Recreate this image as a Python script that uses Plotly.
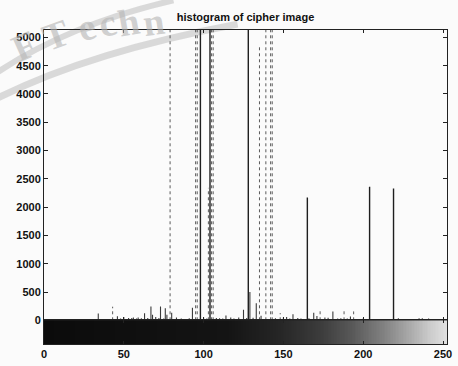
import plotly.graph_objects as go
from plotly.subplots import make_subplots

# Gray levels and pixel counts of the cipher image histogram
tall_levels = [98, 104, 128, 165, 204, 219]
tall_counts = [6500, 6100, 5900, 2170, 2360, 2330]

faint_levels = [79, 95, 96, 103, 105, 106, 135, 139, 142, 143,
                43, 148, 173, 188, 194, 222, 235, 237, 241]
faint_counts = [5600, 5800, 5400, 2340, 6300, 5500, 4840, 5700, 5300, 6000,
                240, 127, 186, 186, 157, 40, 40, 40, 35]

small_levels = [27, 30, 34, 38, 40, 46, 48, 50, 52, 53, 55, 56, 58, 59, 61, 63,
                65, 67, 68, 70, 72, 73, 75, 76, 77, 80, 83, 86, 89, 91, 93, 100,
                102, 108, 110, 112, 114, 117, 119, 121, 122, 125, 127, 129, 131,
                133, 136, 145, 150, 152, 154, 156, 159, 161, 166, 169, 171, 176,
                178, 181, 184, 186, 190, 192, 197, 200, 207, 210, 226, 230, 250]
small_counts = [15, 20, 120, 25, 20, 70, 30, 60, 25, 40, 40, 50, 30, 50, 35, 125,
                40, 245, 100, 60, 40, 245, 30, 215, 100, 135, 50, 30, 25, 35, 220, 50,
                30, 40, 35, 30, 85, 50, 30, 25, 50, 186, 40, 500, 45,
                300, 80, 35, 50, 60, 30, 105, 40, 30, 35, 135, 75, 50,
                45, 157, 30, 35, 30, 65, 25, 30, 25, 20, 20, 15, 20]

y_ticks = [0, 500, 1000, 1500, 2000, 2500, 3000, 3500, 4000, 4500, 5000]
x_ticks = [0, 50, 100, 150, 200, 250]
gray_levels = list(range(256))

stamp_letters = ["F", "T", "e", "c", "h", "n"]


def stems(levels, counts):
    xs, ys = [], []
    for g, c in zip(levels, counts):
        xs += [g, g, None]
        ys += [0, c, None]
    return xs, ys


fig = make_subplots(rows=2, cols=1, shared_xaxes=True, vertical_spacing=0,
                    row_heights=[0.9245, 0.0755])

# scanned-print look of the gray bar beneath the histogram
bar_scale = [
    [0.0, "#0b0b0b"], [0.45, "#141414"], [0.58, "#262626"], [0.68, "#3c3c3c"],
    [0.76, "#5a5a5a"], [0.84, "#858585"], [0.9, "#ababab"], [0.95, "#cdcdcd"],
    [1.0, "#e6e6e6"],
]
fig.add_trace(go.Heatmap(z=[gray_levels], x=gray_levels, y=[0.5],
                         colorscale=bar_scale, showscale=False,
                         hoverinfo="skip"), row=2, col=1)

sx, sy = stems(small_levels, small_counts)
fig.add_trace(go.Scatter(x=sx, y=sy, mode="lines",
                         line=dict(color="#3a3a3a", width=1.1),
                         hoverinfo="skip", showlegend=False), row=1, col=1)
fx, fy = stems(faint_levels, faint_counts)
fig.add_trace(go.Scatter(x=fx, y=fy, mode="lines",
                         line=dict(color="#5a5a5a", width=1, dash="dot"),
                         hoverinfo="skip", showlegend=False), row=1, col=1)
tx, ty = stems(tall_levels, tall_counts)
fig.add_trace(go.Scatter(x=tx, y=ty, mode="lines",
                         line=dict(color="#1e1e1e", width=1.4),
                         hoverinfo="skip", showlegend=False), row=1, col=1)

font = dict(family="Liberation Sans, Arial, sans-serif", size=11,
            color="#111111", weight="bold")

fig.update_layout(
    width=458, height=366,
    margin=dict(l=44, r=6, t=30, b=18),
    paper_bgcolor="#fbfbfb", plot_bgcolor="#fbfbfb",
    showlegend=False,
    font=font,
    title=dict(text="histogram of cipher image", x=0.5, xref="paper",
               y=1 - 17 / 366, yref="container", yanchor="middle",
               xanchor="center", font=dict(size=11, weight="bold",
                                           family="Liberation Sans, Arial, sans-serif",
                                           color="#111111")),
)

fig.update_xaxes(range=[0, 252.5], tickvals=x_ticks, showgrid=False,
                 zeroline=False, showline=True, linecolor="#222222",
                 linewidth=1, mirror="ticks", ticks="inside", ticklen=3,
                 tickcolor="#222222")
fig.update_xaxes(showticklabels=False, row=1, col=1)
fig.update_xaxes(showticklabels=True, tickfont=font, row=2, col=1)

fig.update_yaxes(range=[0, 5130], tickvals=y_ticks, showgrid=False,
                 zeroline=False, showline=True, linecolor="#222222",
                 linewidth=1, mirror="ticks", ticks="inside", ticklen=4,
                 tickcolor="#222222", tickfont=font, row=1, col=1)
fig.update_yaxes(range=[0, 1], showticklabels=False, showgrid=False,
                 zeroline=False, showline=True, linecolor="#222222",
                 mirror=True, ticks="", row=2, col=1)

# faint library stamp across the upper-left corner
W, H0, PH = 408.0, 348.0, 318.0


def px(xp, yp):
    return (xp - 44) / W, (H0 - yp) / PH


def arc(p0, c, p1):
    a, b, d = px(*p0), px(*c), px(*p1)
    return f"M {a[0]},{a[1]} Q {b[0]},{b[1]} {d[0]},{d[1]}"


for p0, c, p1, w in [((-5, 100), (90, 52), (240, 24), 7),
                     ((-5, 74), (70, 24), (175, 0), 6)]:
    fig.add_shape(type="path", path=arc(p0, c, p1), xref="paper", yref="paper",
                  line=dict(color="rgba(190,190,190,0.55)", width=w),
                  layer="below")

letter_spots = [(24, 46, -24), (56, 35, -20), (87, 27, -16),
                (108, 23, -13), (130, 22, -10), (155, 22, -8)]
for ch, (lx, ly, ang) in zip(stamp_letters, letter_spots):
    ax_, ay_ = px(lx, ly)
    fig.add_annotation(text=ch, xref="paper", yref="paper", x=ax_, y=ay_,
                       xanchor="center", yanchor="middle",
                       showarrow=False, textangle=ang,
                       font=dict(family="Liberation Serif, serif", size=38,
                                 color="rgba(180,180,180,0.6)"))

fig.write_html("out.html")
